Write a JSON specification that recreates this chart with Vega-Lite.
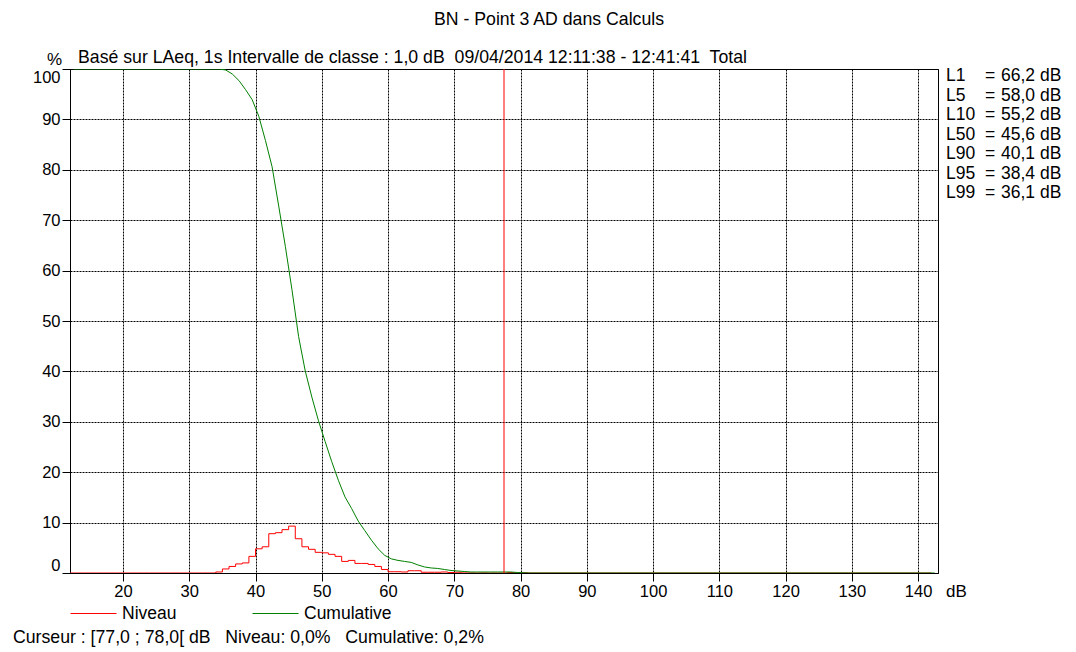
{
  "$schema": "https://vega.github.io/schema/vega-lite/v6.json",
  "background": "white",
  "padding": {"left": 12, "top": 11, "right": 0, "bottom": 0},
  "config": {
    "font": "Liberation Sans",
    "view": {"stroke": null},
    "title": {"fontWeight": "normal", "color": "black", "fontSize": 17.7, "font": "Liberation Sans"},
    "text": {"font": "Liberation Sans", "fontSize": 17.5, "color": "black"},
    "axis": {
      "labelFont": "Liberation Sans", "labelFontSize": 16.5, "labelColor": "black",
      "domainColor": "black", "tickColor": "black", "tickSize": 8, "labelPadding": 2,
      "gridColor": "black", "gridDash": [2, 1], "gridOpacity": 1, "gridWidth": 1,
      "titleFont": "Liberation Sans", "titleFontWeight": "normal", "titleFontSize": 17, "titleColor": "black"
    },
    "legend": {"labelFont": "Liberation Sans", "labelFontSize": 17.5, "labelColor": "black"}
  },
  "title": {"text": "BN - Point 3 AD dans Calculs", "anchor": "middle", "offset": 20, "dx": 4},
  "datasets": {
    "classes": [
      {"lo":12,"mid":12.5,"niveau":0,"cumulative":100},{"lo":13,"mid":13.5,"niveau":0,"cumulative":100},{"lo":14,"mid":14.5,"niveau":0,"cumulative":100},{"lo":15,"mid":15.5,"niveau":0,"cumulative":100},{"lo":16,"mid":16.5,"niveau":0,"cumulative":100},{"lo":17,"mid":17.5,"niveau":0,"cumulative":100},{"lo":18,"mid":18.5,"niveau":0,"cumulative":100},{"lo":19,"mid":19.5,"niveau":0,"cumulative":100},{"lo":20,"mid":20.5,"niveau":0,"cumulative":100},{"lo":21,"mid":21.5,"niveau":0,"cumulative":100},{"lo":22,"mid":22.5,"niveau":0,"cumulative":100},{"lo":23,"mid":23.5,"niveau":0,"cumulative":100},{"lo":24,"mid":24.5,"niveau":0,"cumulative":100},{"lo":25,"mid":25.5,"niveau":0,"cumulative":100},{"lo":26,"mid":26.5,"niveau":0,"cumulative":100},{"lo":27,"mid":27.5,"niveau":0,"cumulative":100},{"lo":28,"mid":28.5,"niveau":0,"cumulative":100},{"lo":29,"mid":29.5,"niveau":0,"cumulative":100},{"lo":30,"mid":30.5,"niveau":0,"cumulative":100},{"lo":31,"mid":31.5,"niveau":0,"cumulative":100},{"lo":32,"mid":32.5,"niveau":0,"cumulative":100},{"lo":33,"mid":33.5,"niveau":0,"cumulative":100},
      {"lo":34,"mid":34.5,"niveau":0.2,"cumulative":100},{"lo":35,"mid":35.5,"niveau":0.8,"cumulative":99.8},{"lo":36,"mid":36.5,"niveau":1.3,"cumulative":99.0},{"lo":37,"mid":37.5,"niveau":1.8,"cumulative":97.7},{"lo":38,"mid":38.5,"niveau":2.0,"cumulative":95.9},{"lo":39,"mid":39.5,"niveau":3.3,"cumulative":93.9},
      {"lo":40,"mid":40.5,"niveau":4.8,"cumulative":90.6},{"lo":41,"mid":41.5,"niveau":5.2,"cumulative":85.8},{"lo":42,"mid":42.5,"niveau":7.8,"cumulative":80.6},{"lo":43,"mid":43.5,"niveau":8.0,"cumulative":72.8},{"lo":44,"mid":44.5,"niveau":8.6,"cumulative":64.8},{"lo":45,"mid":45.5,"niveau":9.3,"cumulative":56.2},{"lo":46,"mid":46.5,"niveau":6.8,"cumulative":46.9},{"lo":47,"mid":47.5,"niveau":5.2,"cumulative":40.1},{"lo":48,"mid":48.5,"niveau":4.7,"cumulative":34.9},{"lo":49,"mid":49.5,"niveau":4.1,"cumulative":30.2},
      {"lo":50,"mid":50.5,"niveau":4.0,"cumulative":26.1},{"lo":51,"mid":51.5,"niveau":3.7,"cumulative":22.1},{"lo":52,"mid":52.5,"niveau":3.3,"cumulative":18.4},{"lo":53,"mid":53.5,"niveau":2.3,"cumulative":15.1},{"lo":54,"mid":54.5,"niveau":2.5,"cumulative":12.8},{"lo":55,"mid":55.5,"niveau":1.9,"cumulative":10.3},{"lo":56,"mid":56.5,"niveau":1.9,"cumulative":8.4},{"lo":57,"mid":57.5,"niveau":1.7,"cumulative":6.5},{"lo":58,"mid":58.5,"niveau":1.3,"cumulative":4.8},{"lo":59,"mid":59.5,"niveau":0.7,"cumulative":3.5},
      {"lo":60,"mid":60.5,"niveau":0.25,"cumulative":2.8},{"lo":61,"mid":61.5,"niveau":0.25,"cumulative":2.5},{"lo":62,"mid":62.5,"niveau":0.2,"cumulative":2.3},{"lo":63,"mid":63.5,"niveau":0.45,"cumulative":2.1},{"lo":64,"mid":64.5,"niveau":0.45,"cumulative":1.6},{"lo":65,"mid":65.5,"niveau":0.15,"cumulative":1.2},{"lo":66,"mid":66.5,"niveau":0.15,"cumulative":1.0},{"lo":67,"mid":67.5,"niveau":0.15,"cumulative":0.9},{"lo":68,"mid":68.5,"niveau":0.2,"cumulative":0.7},{"lo":69,"mid":69.5,"niveau":0.1,"cumulative":0.5},
      {"lo":70,"mid":70.5,"niveau":0.15,"cumulative":0.4},{"lo":71,"mid":71.5,"niveau":0.02,"cumulative":0.3},{"lo":72,"mid":72.5,"niveau":0.02,"cumulative":0.2},{"lo":73,"mid":73.5,"niveau":0,"cumulative":0.2},{"lo":74,"mid":74.5,"niveau":0.02,"cumulative":0.2},{"lo":75,"mid":75.5,"niveau":0,"cumulative":0.2},{"lo":76,"mid":76.5,"niveau":0,"cumulative":0.2},{"lo":77,"mid":77.5,"niveau":0,"cumulative":0.2},{"lo":78,"mid":78.5,"niveau":0.1,"cumulative":0.2},{"lo":79,"mid":79.5,"niveau":0.05,"cumulative":0.1},
      {"lo":80,"mid":80.5,"niveau":0.05,"cumulative":0.05},{"lo":81,"mid":81.5,"niveau":0,"cumulative":0},{"lo":82,"mid":82.5,"niveau":0,"cumulative":0},{"lo":83,"mid":83.5,"niveau":0,"cumulative":0},{"lo":84,"mid":84.5,"niveau":0,"cumulative":0},{"lo":85,"mid":85.5,"niveau":0,"cumulative":0},{"lo":86,"mid":86.5,"niveau":0,"cumulative":0},{"lo":87,"mid":87.5,"niveau":0,"cumulative":0},{"lo":88,"mid":88.5,"niveau":0,"cumulative":0},{"lo":89,"mid":89.5,"niveau":0,"cumulative":0},
      {"lo":90,"mid":90.5,"niveau":0,"cumulative":0},{"lo":91,"mid":91.5,"niveau":0,"cumulative":0},{"lo":92,"mid":92.5,"niveau":0,"cumulative":0},{"lo":93,"mid":93.5,"niveau":0,"cumulative":0},{"lo":94,"mid":94.5,"niveau":0,"cumulative":0},{"lo":95,"mid":95.5,"niveau":0,"cumulative":0},{"lo":96,"mid":96.5,"niveau":0,"cumulative":0},{"lo":97,"mid":97.5,"niveau":0,"cumulative":0},{"lo":98,"mid":98.5,"niveau":0,"cumulative":0},{"lo":99,"mid":99.5,"niveau":0,"cumulative":0},
      {"lo":100,"mid":100.5,"niveau":0,"cumulative":0},{"lo":101,"mid":101.5,"niveau":0,"cumulative":0},{"lo":102,"mid":102.5,"niveau":0,"cumulative":0},{"lo":103,"mid":103.5,"niveau":0,"cumulative":0},{"lo":104,"mid":104.5,"niveau":0,"cumulative":0},{"lo":105,"mid":105.5,"niveau":0,"cumulative":0},{"lo":106,"mid":106.5,"niveau":0,"cumulative":0},{"lo":107,"mid":107.5,"niveau":0,"cumulative":0},{"lo":108,"mid":108.5,"niveau":0,"cumulative":0},{"lo":109,"mid":109.5,"niveau":0,"cumulative":0},
      {"lo":110,"mid":110.5,"niveau":0,"cumulative":0},{"lo":111,"mid":111.5,"niveau":0,"cumulative":0},{"lo":112,"mid":112.5,"niveau":0,"cumulative":0},{"lo":113,"mid":113.5,"niveau":0,"cumulative":0},{"lo":114,"mid":114.5,"niveau":0,"cumulative":0},{"lo":115,"mid":115.5,"niveau":0,"cumulative":0},{"lo":116,"mid":116.5,"niveau":0,"cumulative":0},{"lo":117,"mid":117.5,"niveau":0,"cumulative":0},{"lo":118,"mid":118.5,"niveau":0,"cumulative":0},{"lo":119,"mid":119.5,"niveau":0,"cumulative":0},
      {"lo":120,"mid":120.5,"niveau":0,"cumulative":0},{"lo":121,"mid":121.5,"niveau":0,"cumulative":0},{"lo":122,"mid":122.5,"niveau":0,"cumulative":0},{"lo":123,"mid":123.5,"niveau":0,"cumulative":0},{"lo":124,"mid":124.5,"niveau":0,"cumulative":0},{"lo":125,"mid":125.5,"niveau":0,"cumulative":0},{"lo":126,"mid":126.5,"niveau":0,"cumulative":0},{"lo":127,"mid":127.5,"niveau":0,"cumulative":0},{"lo":128,"mid":128.5,"niveau":0,"cumulative":0},{"lo":129,"mid":129.5,"niveau":0,"cumulative":0},
      {"lo":130,"mid":130.5,"niveau":0,"cumulative":0},{"lo":131,"mid":131.5,"niveau":0,"cumulative":0},{"lo":132,"mid":132.5,"niveau":0,"cumulative":0},{"lo":133,"mid":133.5,"niveau":0,"cumulative":0},{"lo":134,"mid":134.5,"niveau":0,"cumulative":0},{"lo":135,"mid":135.5,"niveau":0,"cumulative":0},{"lo":136,"mid":136.5,"niveau":0,"cumulative":0},{"lo":137,"mid":137.5,"niveau":0,"cumulative":0},{"lo":138,"mid":138.5,"niveau":0,"cumulative":0},{"lo":139,"mid":139.5,"niveau":0,"cumulative":0},
      {"lo":140,"mid":140.5,"niveau":0,"cumulative":0},{"lo":141,"mid":141.5,"niveau":0,"cumulative":0},{"lo":142,"mid":142.5,"niveau":0,"cumulative":0}
    ],
    "cursor": [{"db": 77.5}],
    "stats": [
      {"stat": "L1", "value": "66,2 dB"},
      {"stat": "L5", "value": "58,0 dB"},
      {"stat": "L10", "value": "55,2 dB"},
      {"stat": "L50", "value": "45,6 dB"},
      {"stat": "L90", "value": "40,1 dB"},
      {"stat": "L95", "value": "38,4 dB"},
      {"stat": "L99", "value": "36,1 dB"}
    ]
  },
  "vconcat": [
    {
      "title": {"text": "Curseur : [77,0 ; 78,0[ dB\u00a0\u00a0 Niveau: 0,0%\u00a0\u00a0 Cumulative: 0,2%", "orient": "bottom", "anchor": "start", "offset": 29, "dx": -19},
      "bounds": "flush",
      "spacing": 8,
      "hconcat": [
        {
          "width": 868,
          "height": 504,
          "view": {"stroke": "black", "strokeWidth": 1},
          "title": {"text": "Basé sur LAeq, 1s Intervalle de classe : 1,0 dB\u00a0 09/04/2014 12:11:38 - 12:41:41\u00a0 Total", "anchor": "start", "frame": "group", "dx": 8, "offset": -17},
          "data": {"name": "classes"},
          "layer": [
            {
              "mark": {"type": "line", "interpolate": "step-after", "strokeWidth": 1, "clip": true},
              "encoding": {
                "x": {"field": "lo", "type": "quantitative", "scale": {"domain": [12, 143], "nice": false, "zero": false},
                  "axis": {"values": [20, 30, 40, 50, 60, 70, 80, 90, 100, 110, 120, 130, 140], "grid": true, "title": "dB", "titleAlign": "center", "titleBaseline": "alphabetic", "titleX": 886, "titleY": 23}},
                "y": {"field": "niveau", "type": "quantitative", "scale": {"domain": [0, 100], "nice": false},
                  "axis": {"values": [0, 10, 20, 30, 40, 50, 60, 70, 80, 90, 100], "grid": true, "labelFlush": true, "title": "%", "titleAngle": 0, "titleAlign": "center", "titleBaseline": "alphabetic", "titleX": -16, "titleY": -5}},
                "color": {"datum": "Niveau", "scale": {"domain": ["Niveau", "Cumulative"], "range": ["#ff0000", "#008000"]},
                  "legend": {"orient": "none", "legendX": 0, "legendY": 521, "direction": "horizontal", "title": null, "symbolType": "stroke", "symbolSize": 2116, "symbolStrokeWidth": 1, "labelOffset": 5, "columnPadding": 73, "padding": 0}}
              }
            },
            {
              "mark": {"type": "line", "strokeWidth": 1, "clip": true},
              "encoding": {
                "x": {"field": "mid", "type": "quantitative"},
                "y": {"field": "cumulative", "type": "quantitative"},
                "color": {"datum": "Cumulative"}
              }
            },
            {
              "data": {"name": "cursor"},
              "mark": {"type": "rule", "color": "#ff0000", "strokeWidth": 1},
              "encoding": {"x": {"field": "db", "type": "quantitative"}}
            }
          ]
        },
        {
          "width": 131,
          "height": {"step": 19.5},
          "data": {"name": "stats"},
          "encoding": {"y": {"field": "stat", "type": "nominal", "sort": null, "axis": null, "scale": {"type": "point", "padding": 0.36}}},
          "layer": [
            {"mark": {"type": "text", "align": "left", "baseline": "middle", "dx": -65.5}, "encoding": {"text": {"field": "stat"}}},
            {"mark": {"type": "text", "align": "center", "baseline": "middle", "dx": -21.5, "text": "="}, "encoding": {}},
            {"mark": {"type": "text", "align": "left", "baseline": "middle", "dx": -10.5}, "encoding": {"text": {"field": "value"}}}
          ]
        }
      ]
    }
  ]
}
